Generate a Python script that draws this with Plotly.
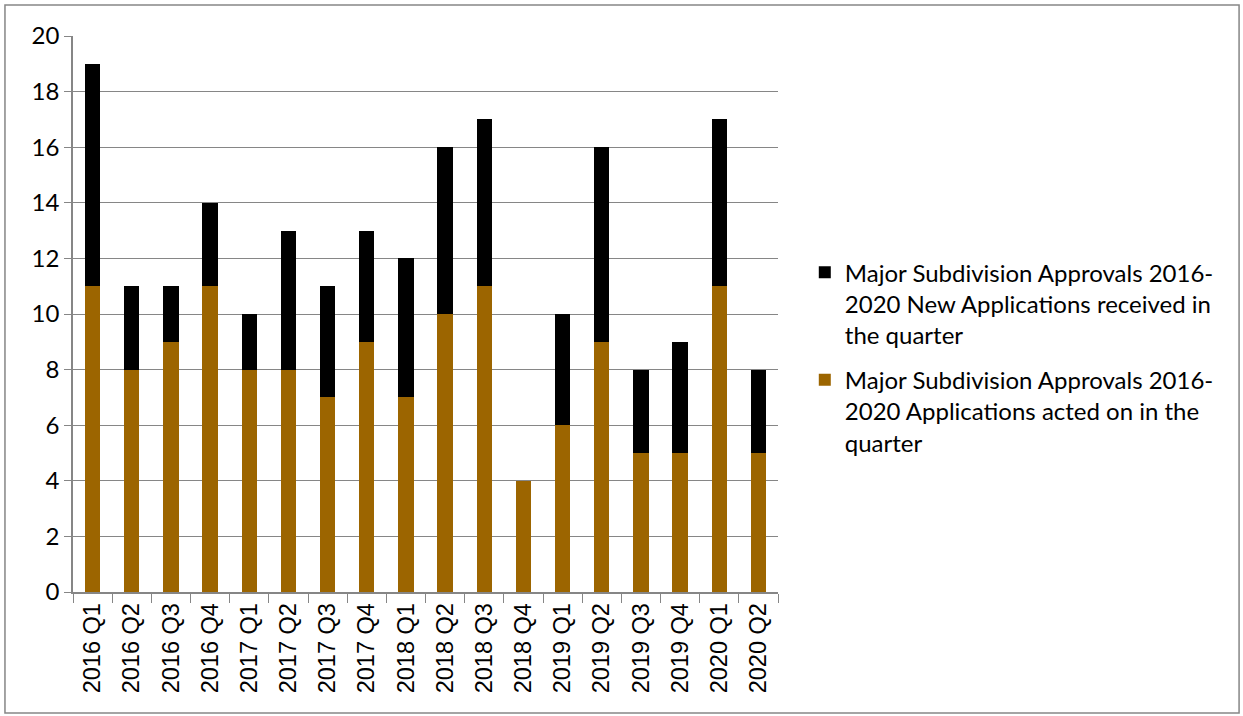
import plotly.graph_objects as go

# -----------------------------------------------------------------------------
# Data
# -----------------------------------------------------------------------------

quarters = [
    "2016 Q1", "2016 Q2", "2016 Q3", "2016 Q4",
    "2017 Q1", "2017 Q2", "2017 Q3", "2017 Q4",
    "2018 Q1", "2018 Q2", "2018 Q3", "2018 Q4",
    "2019 Q1", "2019 Q2", "2019 Q3", "2019 Q4",
    "2020 Q1", "2020 Q2",
]
acted_on = [11, 8, 9, 11, 8, 8, 7, 9, 7, 10, 11, 4, 6, 9, 5, 5, 11, 5]
new_received = [8, 3, 2, 3, 2, 5, 4, 4, 5, 6, 6, 0, 4, 7, 3, 4, 6, 3]

name_new = "Major Subdivision Approvals 2016-<br>2020 New Applications received in<br>the quarter"
name_acted = "Major Subdivision Approvals 2016-<br>2020 Applications acted on in the<br>quarter"

GRAY = "#868686"

# -----------------------------------------------------------------------------
# Figure
# -----------------------------------------------------------------------------

fig = go.Figure()
fig.add_trace(go.Bar(x=quarters, y=acted_on, name=name_acted, legendgroup="acted", legendrank=2,
                     marker=dict(color="#9C6500", line=dict(width=0))))
fig.add_trace(go.Bar(x=quarters, y=new_received, name=name_new, legendgroup="new", legendrank=1,
                     marker=dict(color="#000000", line=dict(width=0))))

fig.update_layout(
    width=1243,
    height=716,
    barmode="stack",
    bargap=0.61,
    plot_bgcolor="white",
    paper_bgcolor="white",
    margin=dict(l=73, r=465, t=36, b=124),
    showlegend=True,
    legend=dict(
        x=1.038, y=0.615, xanchor="left", yanchor="top",
        traceorder="grouped",
        tracegroupgap=11,
        valign="top",
        font=dict(family="Lato", size=24, color="#000000"),
        itemsizing="constant",
    ),
    hovermode=False,
)

# outer chart frame
fig.add_shape(
    type="rect", xref="paper", yref="paper",
    x0=-0.0965, x1=1.654, y0=-0.2176, y1=1.0558,
    line=dict(color=GRAY, width=1.5), fillcolor="rgba(0,0,0,0)", layer="below",
)

fig.update_xaxes(
    type="category",
    tickangle=-90,
    ticks="outside",
    tickson="boundaries",
    ticklen=9,
    tickcolor=GRAY,
    showline=True,
    linecolor=GRAY,
    linewidth=1.5,
    showgrid=False,
    tickfont=dict(family="Liberation Sans", size=23.5, color="#000000"),
)
fig.update_yaxes(
    range=[0, 20],
    dtick=2,
    ticks="outside",
    ticklen=7,
    tickcolor=GRAY,
    showline=True,
    linecolor=GRAY,
    linewidth=1.5,
    gridcolor=GRAY,
    gridwidth=1,
    zeroline=False,
    tickfont=dict(family="Lato", size=24, color="#000000"),
)

fig.write_html(
    "out.html",
    config={"displayModeBar": False},
    post_script="document.body.style.margin='0';",
)
